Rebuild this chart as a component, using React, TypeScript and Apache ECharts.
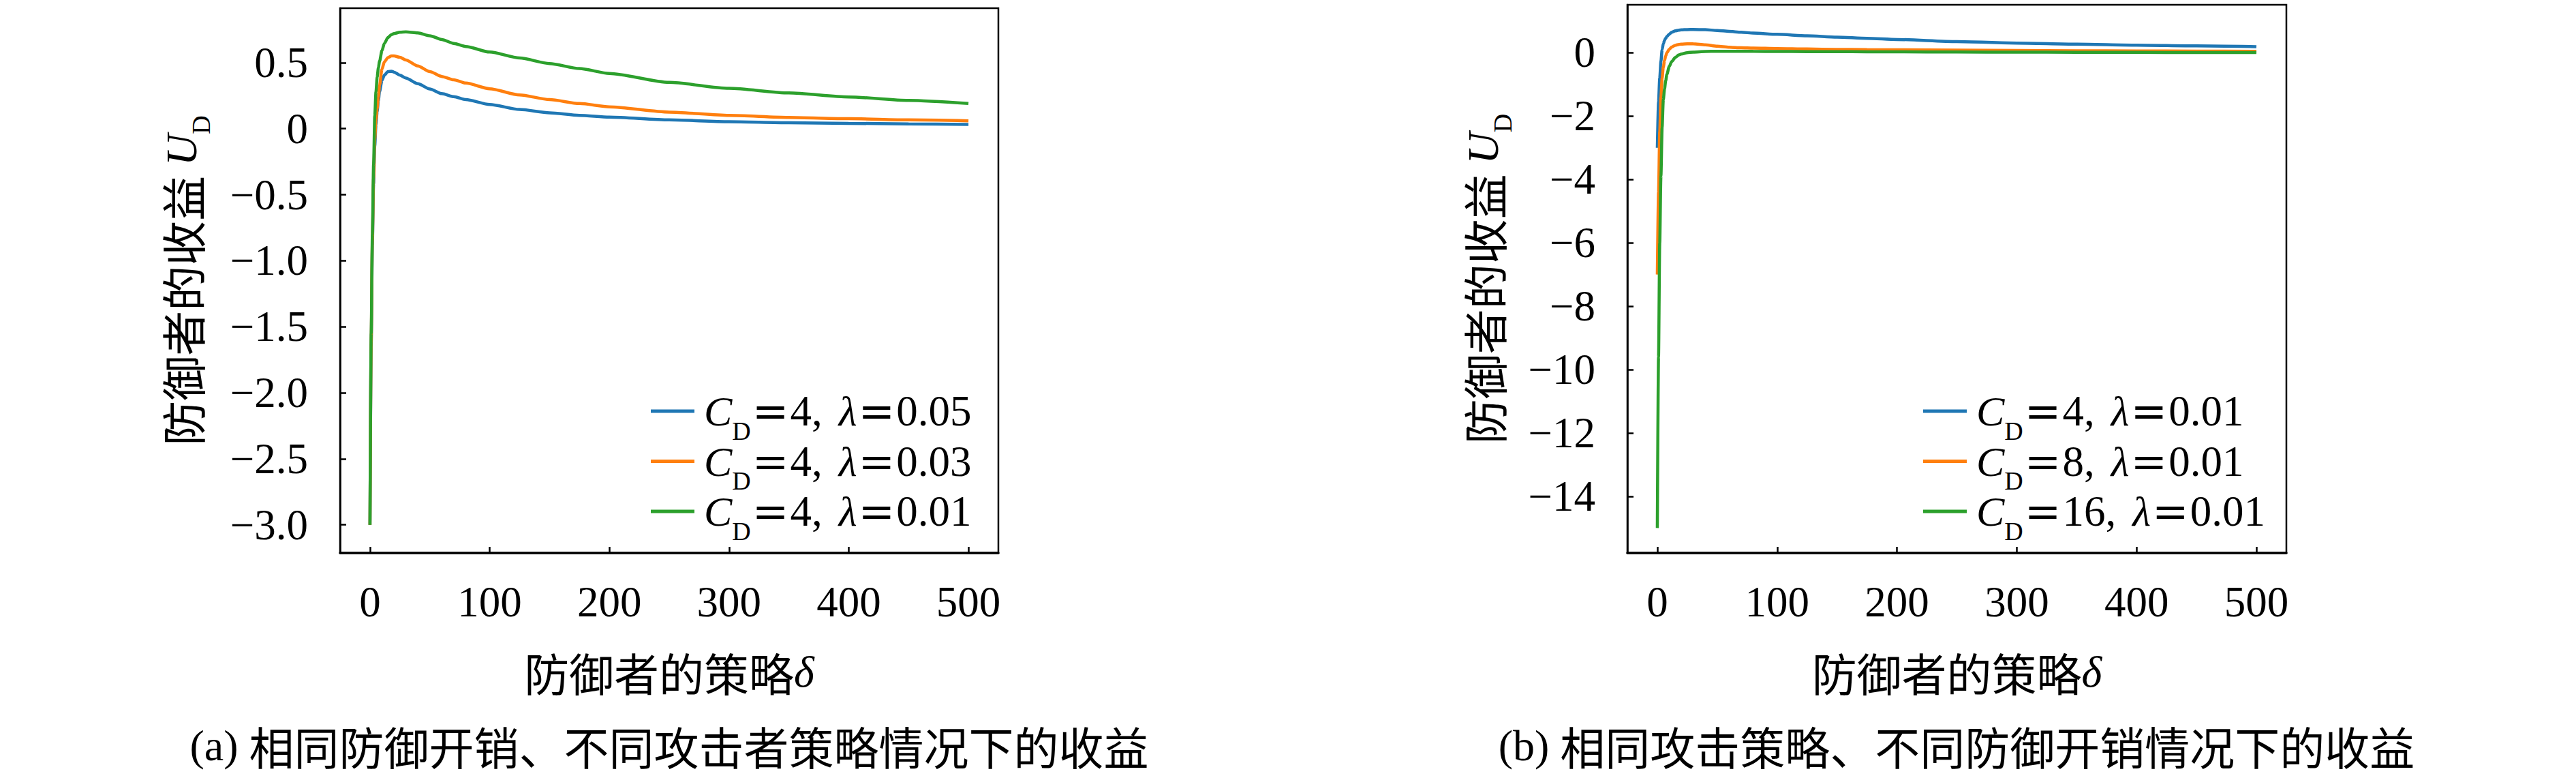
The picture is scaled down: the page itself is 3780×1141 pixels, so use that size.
import React, { useEffect, useRef } from 'react';
import * as echarts from 'echarts';

// defender strategy δ sample points
const deltaValues = [0, 1, 2, 3, 4, 5, 6, 7, 8, 10, 12, 15, 18, 20, 25, 30, 40, 50, 60, 70, 80, 100, 125, 150, 175, 200, 250, 300, 350, 400, 450, 500];

// (a) C_D = 4, different λ
const uA_lambda005 = [-3.0, -1.65, -0.88, -0.42, -0.13, 0.03, 0.13, 0.21, 0.28, 0.365, 0.405, 0.432, 0.435, 0.428, 0.405, 0.383, 0.34, 0.3, 0.265, 0.242, 0.22, 0.183, 0.145, 0.12, 0.1, 0.087, 0.066, 0.053, 0.045, 0.04, 0.036, 0.032];
const uA_lambda003 = [-3.0, -1.62, -0.85, -0.38, -0.08, 0.07, 0.15, 0.24, 0.33, 0.45, 0.505, 0.538, 0.55, 0.551, 0.54, 0.52, 0.475, 0.432, 0.395, 0.37, 0.345, 0.302, 0.255, 0.22, 0.19, 0.165, 0.125, 0.1, 0.085, 0.075, 0.066, 0.059];
const uA_lambda001 = [-3.0, -1.55, -0.8, -0.27, 0.1, 0.28, 0.39, 0.46, 0.51, 0.59, 0.645, 0.69, 0.712, 0.72, 0.73, 0.733, 0.725, 0.703, 0.675, 0.645, 0.622, 0.58, 0.535, 0.493, 0.455, 0.418, 0.35, 0.305, 0.27, 0.24, 0.214, 0.19];

// (b) λ = 0.01, different C_D
const uB_cd4 = [-3.0, -1.55, -0.8, -0.27, 0.1, 0.28, 0.39, 0.46, 0.51, 0.59, 0.645, 0.69, 0.712, 0.72, 0.73, 0.733, 0.725, 0.703, 0.675, 0.645, 0.622, 0.58, 0.535, 0.493, 0.455, 0.418, 0.35, 0.305, 0.27, 0.24, 0.214, 0.19];
const uB_cd8 = [-7.0, -4.4, -2.5, -1.4, -0.8, -0.45, -0.25, -0.1, 0.0, 0.11, 0.18, 0.235, 0.262, 0.272, 0.282, 0.28, 0.25, 0.205, 0.172, 0.157, 0.147, 0.132, 0.117, 0.106, 0.098, 0.092, 0.082, 0.072, 0.063, 0.056, 0.05, 0.045];
const uB_cd16 = [-15.0, -9.6, -6.0, -3.9, -2.35, -1.48, -1.15, -0.88, -0.68, -0.43, -0.28, -0.15, -0.07, -0.04, 0.0, 0.02, 0.04, 0.045, 0.045, 0.044, 0.042, 0.04, 0.036, 0.033, 0.03, 0.027, 0.022, 0.018, 0.014, 0.01, 0.007, 0.005];

// legend texts
const legendCdA = ['4', '4', '4'];
const legendLambdaA = ['0.05', '0.03', '0.01'];
const legendCdB = ['4', '8', '16'];
const legendLambdaB = ['0.01', '0.01', '0.01'];

const xAxisTitle = '防御者的策略';
const yAxisTitle = '防御者的收益 ';
const captionA = '相同防御开销、不同攻击者策略情况下的收益';
const captionB = '相同攻击策略、不同防御开销情况下的收益';

const colors = ['#1f77b4', '#ff7f0e', '#2ca02c'];
const serif = '"Liberation Serif", "DejaVu Serif", serif';
const wideSerif = '"DejaVu Serif", "Liberation Serif", serif';
const cjk = '"Noto Sans CJK SC", "Noto Sans CJK JP", sans-serif';

const seriesNamesA = ['a1', 'a2', 'a3'];
const seriesNamesB = ['b1', 'b2', 'b3'];

const subRich = {
  c: { fontFamily: serif, fontStyle: 'italic', fontSize: 62, lineHeight: 62, verticalAlign: 'middle', color: '#000', padding: [0, 0, 0, 9] },
  d: { fontFamily: serif, fontSize: 38, lineHeight: 38, verticalAlign: 'middle', color: '#000', padding: [57, 0, 0, 0] },
  e: { fontFamily: wideSerif, fontSize: 64, lineHeight: 62, verticalAlign: 'middle', color: '#000', padding: [0, 2, 0, 2] },
  t: { fontFamily: serif, fontSize: 63, lineHeight: 62, verticalAlign: 'middle', color: '#000' },
  l: { fontFamily: serif, fontStyle: 'italic', fontSize: 62, lineHeight: 62, verticalAlign: 'middle', color: '#000', padding: [0, 0, 0, 24] },
  z: { fontFamily: cjk, fontSize: 66, lineHeight: 66, verticalAlign: 'middle', color: '#000' },
  u: { fontFamily: serif, fontStyle: 'italic', fontSize: 64, lineHeight: 64, verticalAlign: 'middle', color: '#000' },
  g: { fontFamily: serif, fontStyle: 'italic', fontSize: 64, lineHeight: 64, verticalAlign: 'middle', color: '#000' },
  p: { fontFamily: serif, fontSize: 64, lineHeight: 66, verticalAlign: 'middle', color: '#000' },
};

function legendText(cd: string, lam: string) {
  return `{c|C}{d|D}{e|=}{t|${cd},}{l|λ}{e|=}{t|${lam}}`;
}

const legendMap: Record<string, string> = {};
seriesNamesA.forEach((n, i) => (legendMap[n] = legendText(legendCdA[i], legendLambdaA[i])));
seriesNamesB.forEach((n, i) => (legendMap[n] = legendText(legendCdB[i], legendLambdaB[i])));

const fmtA = (v: number) => {
  if (Math.abs(v) < 1e-9) return '0';
  return (v < 0 ? '\u2212' : '') + Math.abs(v).toFixed(1);
};
const fmtB = (v: number) => {
  if (Math.abs(v) < 1e-9) return '0';
  return (v < 0 ? '\u2212' : '') + String(Math.round(Math.abs(v)));
};

function makeSeries(name: string, values: number[], color: string, idx: number) {
  return {
    type: 'line',
    name,
    xAxisIndex: idx,
    yAxisIndex: idx,
    data: deltaValues.map((d, i) => [d, values[i]]),
    showSymbol: false,
    symbol: 'none',
    smooth: 0.25,
    smoothMonotone: 'x',
    lineStyle: { color, width: 4.5 },
    itemStyle: { color },
  };
}

function xAxisOf(idx: number) {
  return {
    type: 'value',
    gridIndex: idx,
    min: -25,
    max: 525,
    splitNumber: 5,
    splitLine: { show: false },
    axisLine: { show: true, onZero: false, lineStyle: { color: '#000', width: 3.5 } },
    axisTick: { show: true, inside: true, length: 9, lineStyle: { color: '#000', width: 2.5 } },
    axisLabel: {
      show: true,
      interval: 0,
      showMinLabel: false,
      showMaxLabel: false,
      margin: 40,
      fontFamily: serif,
      fontSize: 63,
      color: '#000',
      formatter: (v: number) => String(Math.round(v)),
    },
    name: `{z|${xAxisTitle}}{g|δ}`,
    nameLocation: 'middle',
    nameGap: 141,
    nameTextStyle: { rich: subRich },
  };
}

function yAxisOf(idx: number, min: number, max: number, fmt: (v: number) => string, gap: number) {
  return {
    type: 'value',
    gridIndex: idx,
    min,
    max,
    splitNumber: 8,
    splitLine: { show: false },
    axisLine: { show: true, onZero: false, lineStyle: { color: '#000', width: 2.5 } },
    axisTick: { show: true, inside: true, length: 9, lineStyle: { color: '#000', width: 2.5 } },
    axisLabel: {
      show: true,
      interval: 0,
      showMinLabel: false,
      showMaxLabel: false,
      margin: 47,
      fontFamily: serif,
      fontSize: 63,
      color: '#000',
      padding: [0, 0, 10, 0],
      formatter: fmt,
    },
    name: `{z|${yAxisTitle}}{u|U}{d|D}`,
    nameLocation: 'middle',
    nameRotate: 90,
    nameGap: gap,
    nameTextStyle: { rich: subRich },
  };
}

function legendOf(names: string[], left: number) {
  return {
    data: names,
    orient: 'vertical',
    left,
    top: 555.5,
    padding: 0,
    itemWidth: 64,
    itemHeight: 5,
    itemGap: -21.5,
    icon: 'rect',
    selectedMode: false,
    formatter: (n: string) => legendMap[n],
    textStyle: { rich: subRich, color: '#000' },
  };
}

const option = {
  animation: false,
  backgroundColor: '#fff',
  grid: [
    { left: 499, top: 12, width: 966, height: 799, show: true, borderColor: '#000', borderWidth: 2.5, backgroundColor: 'transparent' },
    { left: 2388, top: 7, width: 967, height: 804, show: true, borderColor: '#000', borderWidth: 2.5, backgroundColor: 'transparent' },
  ],
  xAxis: [xAxisOf(0), xAxisOf(1)],
  yAxis: [yAxisOf(0, -3.213, 0.912, fmtA, 200), yAxisOf(1, -15.788, 1.513, fmtB, 179)],
  legend: [legendOf(seriesNamesA, 955), legendOf(seriesNamesB, 2822)],
  series: [
    makeSeries(seriesNamesA[0], uA_lambda005, colors[0], 0),
    makeSeries(seriesNamesA[1], uA_lambda003, colors[1], 0),
    makeSeries(seriesNamesA[2], uA_lambda001, colors[2], 0),
    makeSeries(seriesNamesB[0], uB_cd4, colors[0], 1),
    makeSeries(seriesNamesB[1], uB_cd8, colors[1], 1),
    makeSeries(seriesNamesB[2], uB_cd16, colors[2], 1),
  ],
  graphic: [
    {
      type: 'text',
      x: 982,
      y: 1093,
      style: { text: `{p|(a) }{z|${captionA}}`, rich: subRich, align: 'center', verticalAlign: 'middle' },
    },
    {
      type: 'text',
      x: 2871,
      y: 1093,
      style: { text: `{p|(b) }{z|${captionB}}`, rich: subRich, align: 'center', verticalAlign: 'middle' },
    },
  ],
};

export default function App() {
  const ref = useRef<HTMLDivElement>(null);
  useEffect(() => {
    document.body.style.margin = '0';
    const chart = echarts.init(ref.current as HTMLDivElement, null, { renderer: 'svg' });
    chart.setOption(option as any);
    return () => chart.dispose();
  }, []);
  return (
    <div
      ref={ref}
      style={{ position: 'absolute', left: 0, top: 0, width: 3780, height: 1141, background: '#fff' }}
    />
  );
}
